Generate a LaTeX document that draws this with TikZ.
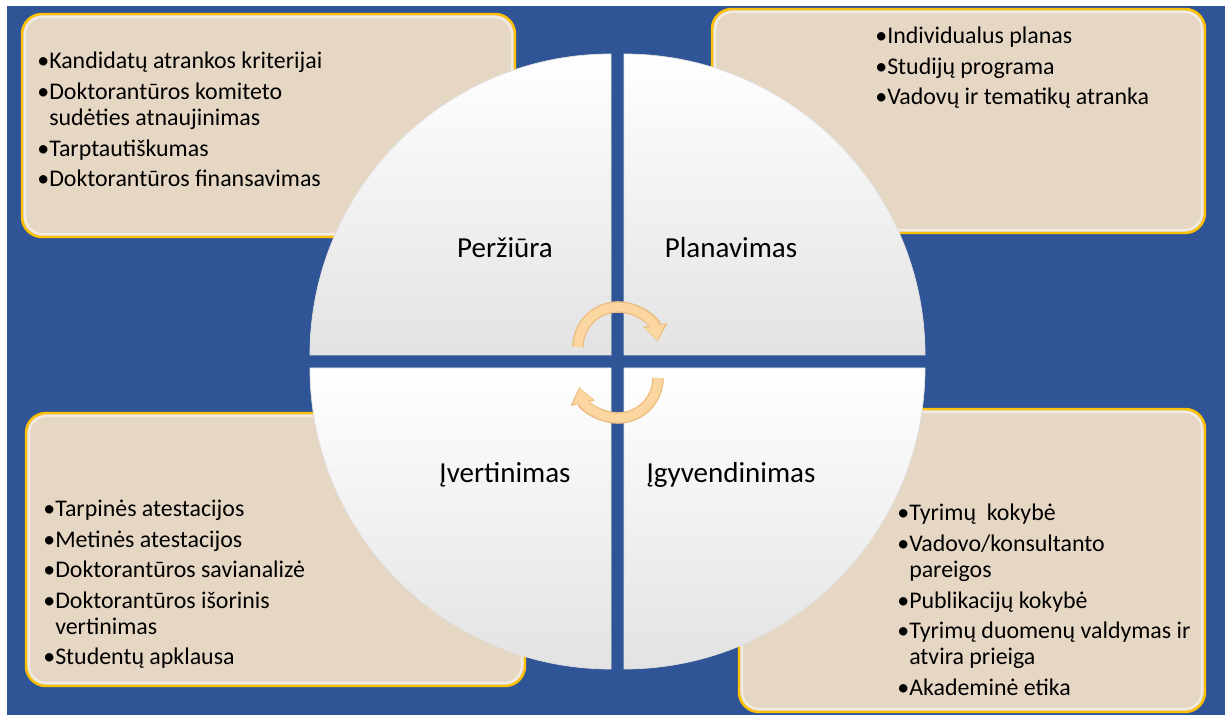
\documentclass[tikz,border=0pt]{standalone}
\usepackage{fontspec}
\setmainfont{Carlito}
\usetikzlibrary{arrows.meta}
\definecolor{bgblue}{RGB}{47,85,151}
\definecolor{panelfill}{RGB}{230,215,196}
\definecolor{panelgold}{RGB}{255,192,0}
\definecolor{arrowfill}{RGB}{252,214,160}
\definecolor{arrowedge}{RGB}{236,190,130}
\newcommand{\bul}{\textbullet}
\newcommand{\bulgap}{\hphantom{\textbullet}}

\begin{document}
\begin{tikzpicture}[x=0.02cm, y=-0.02cm]
	\tikzstyle{every node}=[inner sep=0pt, align=left]
	\tikzstyle{panel}=[fill=panelfill, draw=panelgold, line width=1.4pt, rounded corners=0.4cm]
	\tikzstyle{glow}=[draw=white, opacity=0.5, line width=1.2pt, rounded corners=0.35cm]
	\tikzstyle{quarter}=[top color=white, middle color=white, bottom color=black!11, draw=black!12, line width=0.4pt]
	\tikzstyle{itemtext}=[anchor=north west, font=\fontsize{13.6}{15}\selectfont]
	\tikzstyle{phase}=[anchor=base, font=\fontsize{16.5}{19}\selectfont]
	\tikzstyle{arrowrim}=[draw=arrowedge, line width=6.6pt, -{Triangle[length=9.5pt, width=13.5pt]}]
	\tikzstyle{roundarrow}=[draw=arrowfill, line width=5pt, -{Triangle[length=8pt, width=11pt]}]
	\useasboundingbox (0,0) rectangle (1225,715);
	\fill[white] (0,0) rectangle (1225,715);
	\fill[bgblue] (7,6) rectangle (1225,715);
	% panels
	\draw[panel] (22,14) rectangle (515,237);
	\draw[panel] (712,9) rectangle (1205,233);
	\draw[panel] (26,413) rectangle (525,686);
	\draw[panel] (739,409) rectangle (1205,712);
	\draw[glow] (25,17) rectangle (512,234);
	\draw[glow] (715,12) rectangle (1202,230);
	\draw[glow] (29,416) rectangle (522,683);
	\draw[glow] (742,412) rectangle (1202,709);
	% circle quarters
	\path[quarter] (611,355) -- (310,355) arc[start angle=180, end angle=270, radius=301] -- cycle;
	\path[quarter] (624,355) -- (624,54) arc[start angle=270, end angle=360, radius=301] -- cycle;
	\path[quarter] (624,368) -- (925,368) arc[start angle=0, end angle=90, radius=301] -- cycle;
	\path[quarter] (611,368) -- (611,669) arc[start angle=90, end angle=180, radius=301] -- cycle;
	\node[phase] (perziura) at (505,258) {Peržiūra};
	\node[phase] (planavimas) at (731,258) {Planavimas};
	\node[phase] (ivertinimas) at (505,483) {Įvertinimas};
	\node[phase] (igyvendinimas) at (731,483) {Įgyvendinimas};
	\draw[arrowrim] (578,347) arc[start angle=180, end angle=352, radius=40];
	\draw[roundarrow] (578,347) arc[start angle=180, end angle=350, radius=40];
	\draw[arrowrim] (658,378) arc[start angle=0, end angle=167, radius=40];
	\draw[roundarrow] (658,378) arc[start angle=0, end angle=165, radius=40];
	% lists
	\node[itemtext] (perziuraList) at (37,52) {\bul Kandidatų atrankos kriterijai\\[2.3pt]
		\bul Doktorantūros komiteto\\ \bulgap sudėties atnaujinimas\\[2.3pt]
		\bul Tarptautiškumas\\[2.3pt] \bul Doktorantūros finansavimas};
	\node[itemtext] (planavimasList) at (875,27) {\bul Individualus planas\\[2.3pt]
		\bul Studijų programa\\[2.3pt] \bul Vadovų ir tematikų atranka};
	\node[itemtext] (ivertinimasList) at (43,500) {\bul Tarpinės atestacijos\\[2.3pt]
		\bul Metinės atestacijos\\[2.3pt] \bul Doktorantūros savianalizė\\[2.3pt]
		\bul Doktorantūros išorinis\\ \bulgap vertinimas\\[2.3pt] \bul Studentų apklausa};
	\node[itemtext] (igyvendinimasList) at (897,504) {\bul Tyrimų~ kokybė\\[2.3pt]
		\bul Vadovo/konsultanto\\ \bulgap pareigos\\[2.3pt] \bul Publikacijų kokybė\\[2.3pt]
		\bul Tyrimų duomenų valdymas ir\\ \bulgap atvira prieiga\\[2.3pt] \bul Akademinė etika};
\end{tikzpicture}
\end{document}
